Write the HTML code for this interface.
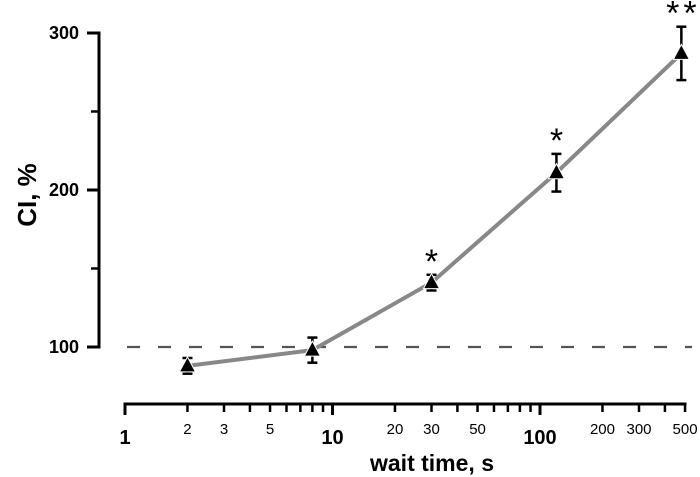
<!DOCTYPE html>
<html><head><meta charset="utf-8"><style>
body{margin:0;background:#fff;}
svg{display:block;font-family:"Liberation Sans",Arial,sans-serif;}
</style></head><body>
<svg id="chart" width="700" height="477" viewBox="0 0 700 477"></svg>
<script>
const xValues=[2,8,30,120,480];
const yValues=[88,98,141,211,287];
const errValues=[5,8,5,12,17];
const sigLabels=["","","*","*","**"];
const yTicks=[100,200,300];
const yMinorTicks=[150,250];
const xMajorTicks=[1,10,100];
const xMinorTicks=[2,3,4,5,6,7,8,9,20,30,40,50,60,70,80,90,200,300,400,500];
const xMinorLabels=[2,3,5,20,30,50,200,300,500];
const baseline=100;

const svg=document.getElementById('chart');
const NS='http://www.w3.org/2000/svg';
const X=v=>125+Math.log10(v)*207.5;
const Y=v=>347-(v-100)*1.57;
function el(t,a,p){const e=document.createElementNS(NS,t);for(const k in a)e.setAttribute(k,a[k]);(p||svg).appendChild(e);return e;}

const bl=el('line',{x1:127,x2:692,y1:Y(baseline),y2:Y(baseline),stroke:'#555','stroke-width':2.2,'stroke-dasharray':'13 18'});



const ya=el('g',{});


el('line',{x1:99,x2:99,y1:Y(300)-1.5,y2:Y(100)+1.5,stroke:'#000','stroke-width':3},ya);
yTicks.forEach(t=>{
  el('line',{x1:87,x2:99,y1:Y(t),y2:Y(t),stroke:'#000','stroke-width':3},ya);
  const tx=el('text',{x:79,y:Y(t)+6,'text-anchor':'end','font-size':18,'font-weight':'bold'},ya);
  tx.textContent=t;
  
  
});
yMinorTicks.forEach(t=>el('line',{x1:91,x2:99,y1:Y(t),y2:Y(t),stroke:'#000','stroke-width':2.5},ya));
const yt=el('text',{x:0,y:0,transform:'translate(36,195) rotate(-90)','text-anchor':'middle','font-size':26,'font-weight':'bold'});
yt.textContent='CI, %';



const xa=el('g',{});


el('line',{x1:X(1)-1.5,x2:X(500)+1.5,y1:404,y2:404,stroke:'#000','stroke-width':3},xa);
xMajorTicks.forEach(t=>{
  el('line',{x1:X(t),x2:X(t),y1:404,y2:415,stroke:'#000','stroke-width':3},xa);
  const tx=el('text',{x:X(t),y:444,'text-anchor':'middle','font-size':20,'font-weight':'bold'},xa);
  tx.textContent=t;
  
  
});
xMinorTicks.forEach(t=>el('line',{x1:X(t),x2:X(t),y1:404,y2:412,stroke:'#000','stroke-width':2.5},xa));
xMinorLabels.forEach(t=>{
  const tx=el('text',{x:X(t),y:434,'text-anchor':'middle','font-size':15},xa);
  tx.textContent=t;
  
  
});
const xt=el('text',{x:432,y:471,'text-anchor':'middle','font-size':23,'font-weight':'bold'});
xt.textContent='wait time, s';



const ln=el('polyline',{points:xValues.map((x,i)=>X(x)+','+Y(yValues[i])).join(' '),fill:'none',stroke:'#888','stroke-width':4,'stroke-linejoin':'round'});



xValues.forEach((xv,i)=>{
  const cx=X(xv),cy=Y(yValues[i]),e=errValues[i];
  const g=el('g',{});
  
  
  const t=Y(yValues[i]+e),b=Y(yValues[i]-e);
  el('line',{x1:cx,x2:cx,y1:t,y2:b,stroke:'#000','stroke-width':2.5},g);
  el('line',{x1:cx-5,x2:cx+5,y1:t,y2:t,stroke:'#000','stroke-width':2.5},g);
  el('line',{x1:cx-5,x2:cx+5,y1:b,y2:b,stroke:'#000','stroke-width':2.5},g);
  el('polygon',{points:`${cx},${cy-9} ${cx-8},${cy+6} ${cx+8},${cy+6}`,fill:'#000',stroke:'#fff','stroke-width':1},g);
  if(sigLabels[i]){
    const s=el('text',{x:cx+(sigLabels[i].length>1?2:0),y:t-2,'text-anchor':'middle','font-size':34,'letter-spacing':sigLabels[i].length>1?4:0},g);
    s.textContent=sigLabels[i];
    
    
  }
});
</script>
</body></html>
